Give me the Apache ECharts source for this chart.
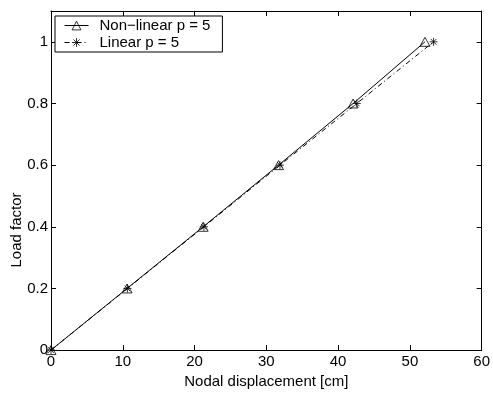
<!DOCTYPE html>
<html>
<head>
<meta charset="utf-8">
<script src="https://cdn.jsdelivr.net/npm/echarts@6/dist/echarts.min.js"></script>
<style>html,body{margin:0;padding:0;background:#fff;}#c{width:493px;height:394px;}</style>
</head>
<body>
<div id="c"></div>
<script>
var loadFactor = [0, 0.2, 0.4, 0.6, 0.8, 1.0];
var dispNonlinear = [0, 10.6, 21.2, 31.7, 42.1, 52.1];
var dispLinear = [0, 10.65, 21.3, 31.9, 42.6, 53.3];
var seriesNames = ['Non\u2212linear p = 5', 'Linear p = 5'];
var xTitle = 'Nodal displacement [cm]';
var yTitle = 'Load factor';

var FONT = 'Liberation Sans, Arial, Helvetica, sans-serif';
var chart = echarts.init(document.getElementById('c'), null, {renderer: 'canvas'});
function pairs(xs, ys) { return xs.map(function (x, i) { return [x, ys[i]]; }); }
var asterisk = 'path://M0,-1L0,1M-1,0L1,0M-0.7,-0.7L0.7,0.7M-0.7,0.7L0.7,-0.7';
var triangle = 'path://M0,-1L1,0.8L-1,0.8Z';

var axisCommon = {
  axisLine: {show: true, onZero: false, lineStyle: {color: '#000', width: 1}},
  axisTick: {show: true, inside: true, length: 5, lineStyle: {color: '#000'}},
  splitLine: {show: false}
};

chart.setOption({
  animation: false,
  backgroundColor: '#fff',
  grid: {left: 51, right: 7, top: 11, bottom: 40, containLabel: false},
  legend: {
    left: 55, top: 16,
    orient: 'vertical',
    backgroundColor: '#fff',
    borderColor: '#000', borderWidth: 1, borderRadius: 0,
    padding: [2, 12, 2, 9],
    itemGap: 2, itemWidth: 24, itemHeight: 11,
    itemStyle: {borderWidth: 0.8},
    lineStyle: {width: 1},
    textStyle: {fontFamily: FONT, fontSize: 15, color: '#000', padding: [0, 0, 0, 6]},
    data: seriesNames
  },
  graphic: [{
    type: 'text',
    rotation: Math.PI / 2,
    x: 17, y: 230,
    style: {text: yTitle, fontFamily: FONT, fontSize: 15, fill: '#000', align: 'center', verticalAlign: 'middle'}
  }],
  xAxis: [
    Object.assign({}, axisCommon, {
      type: 'value', min: 0, max: 60, interval: 10, position: 'bottom',
      name: xTitle, nameLocation: 'middle', nameGap: 20,
      nameTextStyle: {fontFamily: FONT, fontSize: 15, color: '#000'},
      axisLabel: {fontFamily: FONT, fontSize: 15, color: '#000', margin: 4}
    }),
    Object.assign({}, axisCommon, {
      type: 'value', min: 0, max: 60, interval: 10, position: 'top',
      axisLabel: {show: false}
    })
  ],
  yAxis: [
    Object.assign({}, axisCommon, {
      type: 'value', min: 0, max: 1.1, interval: 0.2, position: 'left',
      axisLabel: {fontFamily: FONT, fontSize: 15, color: '#000', margin: 3, showMaxLabel: false,
        formatter: function (v) { return v > 1.05 ? '' : String(Math.round(v * 10) / 10); }}
    }),
    Object.assign({}, axisCommon, {
      type: 'value', min: 0, max: 1.1, interval: 0.2, position: 'right',
      axisLabel: {show: false}
    })
  ],
  series: [
    {
      name: seriesNames[0], type: 'line', xAxisIndex: 0, yAxisIndex: 0,
      data: pairs(dispNonlinear, loadFactor),
      symbol: triangle, symbolSize: [10, 9], showAllSymbol: true,
      lineStyle: {color: '#000', width: 1},
      itemStyle: {color: 'rgba(255,255,255,0)', borderColor: '#000', borderWidth: 0.8},
      z: 3
    },
    {
      name: seriesNames[1], type: 'line', xAxisIndex: 0, yAxisIndex: 0,
      data: pairs(dispLinear, loadFactor),
      symbol: asterisk, symbolSize: 8, showAllSymbol: true,
      lineStyle: {color: '#000', width: 1, type: [5, 3, 1, 3]},
      itemStyle: {color: '#000', borderColor: '#000', borderWidth: 0.8},
      z: 2
    }
  ]
});
</script>
</body>
</html>
